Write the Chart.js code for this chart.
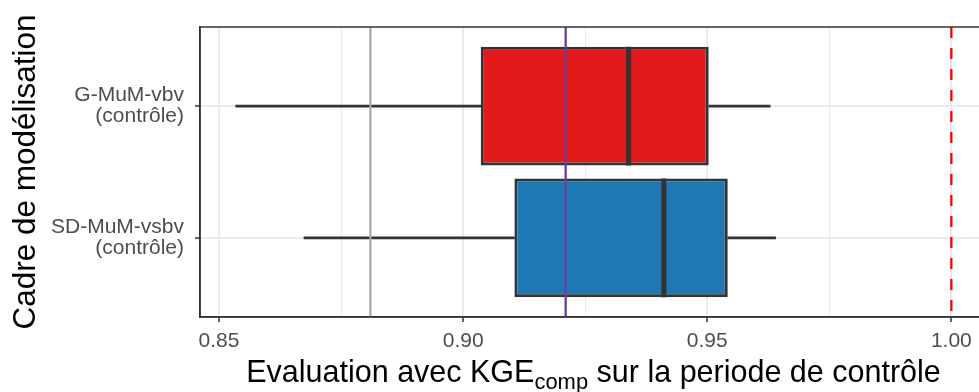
<!DOCTYPE html>
<html><head><meta charset="utf-8">
<script src="https://cdn.jsdelivr.net/npm/chart.js@4.4.1/dist/chart.umd.min.js"></script>
<style>
html,body{margin:0;padding:0;background:#fff;overflow:hidden;}
#wrap{position:relative;width:1000px;height:392px;}
#xtitle{position:absolute;left:200px;width:787px;top:356px;text-align:center;font-family:"Liberation Sans",Arial,sans-serif;font-size:30.5px;line-height:30px;color:#000;white-space:nowrap;}
#xtitle sub{font-size:0.72em;vertical-align:-0.3em;line-height:0;}
</style></head><body>
<div id="wrap"><canvas id="c" width="1000" height="392"></canvas><div id="xtitle">Evaluation avec KGE<sub>comp</sub> sur la periode de contrôle</div></div>
<script>
const categories = [['G-MuM-vbv', '(contrôle)'], ['SD-MuM-vsbv', '(contrôle)']];
const categoryPositions = [1, 2];
const whiskerLow = [0.8534, 0.8674];
const q1 = [0.9036, 0.9105];
const median = [0.9339, 0.9411];
const q3 = [0.9503, 0.9542];
const whiskerHigh = [0.9629, 0.9640];
const boxColors = ['#E31A1C', '#1F78B4'];
const xMajorTicks = [0.85, 0.90, 0.95, 1.00];
const xMinorTicks = [0.875, 0.925, 0.975];
const xRange = [0.8461, 1.0073];
const yRange = [0.4, 2.6];
const refGray = 0.881;
const refPurple = 0.921;
const refRed = 1.00;

const FONT = '"Liberation Sans", Arial, sans-serif';
const BOX_HALF = 0.45;
const isMajor = v => xMajorTicks.some(t => Math.abs(t - v) < 1e-9);

function rangeData(a, b) {
  return categoryPositions.map((p, i) => ({ y: p, x: [a[i], b[i]] }));
}
function vline(v) {
  return [{ x: v, y: yRange[0] }, { x: v, y: yRange[1] }];
}
function medianSeg(i) {
  return [{ x: median[i], y: categoryPositions[i] - BOX_HALF }, { x: median[i], y: categoryPositions[i] + BOX_HALF }];
}

const framePlugin = {
  id: 'frame',
  afterDatasetsDraw(chart) {
    const { ctx, chartArea: a } = chart;
    ctx.save();
    ctx.strokeStyle = '#333333';
    ctx.lineWidth = 1.5;
    ctx.strokeRect(a.left, a.top, a.right - a.left, a.bottom - a.top);
    ctx.restore();
  }
};

const whiskerCommon = {
  type: 'bar', grouped: false, barThickness: 2, backgroundColor: '#333333',
  borderWidth: 0, order: 4
};
const lineCommon = { type: 'line', pointRadius: 0, fill: false, order: 0, borderWidth: 2.3, borderCapStyle: 'butt' };

const datasets = [
  Object.assign({ label: 'whiskerLow', data: rangeData(whiskerLow, q1) }, whiskerCommon),
  Object.assign({ label: 'whiskerHigh', data: rangeData(q3, whiskerHigh) }, whiskerCommon),
  {
    type: 'bar', label: 'box', data: rangeData(q1, q3), grouped: false,
    barPercentage: 0.9, categoryPercentage: 1, backgroundColor: boxColors,
    borderColor: '#333333', borderWidth: 3, borderSkipped: false, order: 3
  }
];
categoryPositions.forEach((p, i) => {
  datasets.push({ type: 'line', label: 'median' + i, data: medianSeg(i), borderColor: '#333333', borderWidth: 5, pointRadius: 0, fill: false, borderCapStyle: 'butt', order: 2 });
});
datasets.push(Object.assign({ label: 'gray', data: vline(refGray), borderColor: '#A9A9A9' }, lineCommon));
datasets.push(Object.assign({ label: 'purple', data: vline(refPurple), borderColor: '#6A3D9A' }, lineCommon));
datasets.push(Object.assign({ label: 'red', data: vline(refRed), borderColor: '#FF0000', borderDash: [11, 10], borderWidth: 2.5 }, lineCommon));

new Chart(document.getElementById('c'), {
  type: 'bar',
  data: { datasets },
  options: {
    indexAxis: 'y',
    responsive: false,
    animation: false,
    devicePixelRatio: 1,
    layout: { padding: { left: 0, top: 27, right: 13, bottom: 0 } },
    plugins: { legend: { display: false }, tooltip: { enabled: false } },
    scales: {
      x: {
        type: 'linear', min: xRange[0], max: xRange[1], offset: false, beginAtZero: false,
        afterBuildTicks: s => { s.ticks = xMajorTicks.concat(xMinorTicks).sort((a, b) => a - b).map(v => ({ value: v })); },
        afterFit: s => { s.height = 75; s.paddingLeft = 0; s.paddingRight = 0; },
        ticks: {
          autoSkip: false, maxRotation: 0, padding: 7, color: '#4D4D4D',
          font: { family: FONT, size: 21 },
          callback: v => isMajor(v) ? v.toFixed(2) : ''
        },
        grid: {
          offset: false, color: '#EBEBEB',
          lineWidth: c => (c.tick && isMajor(c.tick.value)) ? 2 : 1,
          tickColor: c => (c.tick && isMajor(c.tick.value)) ? '#333333' : 'rgba(0,0,0,0)',
          tickLength: 5, tickWidth: 1.5
        },
        border: { display: true, color: '#333333', width: 1.5 }
      },
      y: {
        type: 'linear', min: yRange[0], max: yRange[1], reverse: true, offset: false,
        afterBuildTicks: s => { s.ticks = categoryPositions.map(v => ({ value: v })); },
        afterFit: s => { s.width = 200; s.paddingTop = 0; s.paddingBottom = 0; },
        ticks: {
          autoSkip: false, padding: 11, color: '#4D4D4D',
          font: { family: FONT, size: 21, lineHeight: 1.0 },
          callback: v => { const i = categoryPositions.indexOf(v); return i >= 0 ? categories[i] : ''; }
        },
        grid: { offset: false, color: '#EBEBEB', lineWidth: 2, tickColor: '#333333', tickLength: 5, tickWidth: 1.5 },
        border: { display: true, color: '#333333', width: 1.5 },
        title: {
          display: true, text: 'Cadre de modélisation', color: '#000000',
          font: { family: FONT, size: 31.5 }, padding: { top: 7, bottom: 0 }
        }
      }
    }
  },
  plugins: [framePlugin]
});
</script>
</body></html>
